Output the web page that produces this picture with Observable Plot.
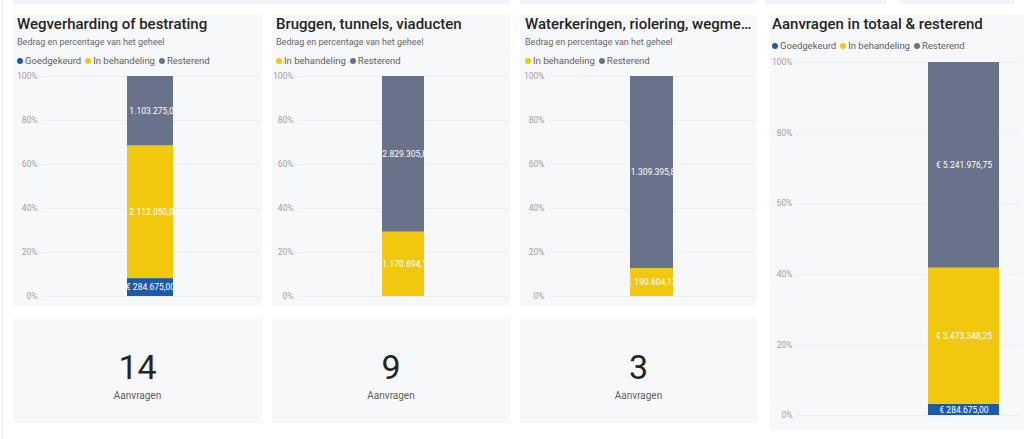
<!DOCTYPE html>
<html><head><meta charset="utf-8">
<script src="https://cdn.jsdelivr.net/npm/d3@7"></script>
<script src="https://cdn.jsdelivr.net/npm/@observablehq/plot@0.6"></script>
<style>
body{margin:0;background:#fff;font-family:Roboto,"Noto Sans",sans-serif;}
#page{position:relative;width:1024px;height:439px;overflow:hidden;background:#fff}
.box{position:absolute;background:#f7f8fa}
.strip{position:absolute;top:0;height:4px;background:#f3f4f7}
.title{position:absolute;font-family:Roboto,sans-serif;font-weight:500;font-size:15px;color:#252423;white-space:nowrap;line-height:16px}
.sub{position:absolute;font-size:9px;color:#666;white-space:nowrap;line-height:10px}
.legend{position:absolute;display:flex;align-items:center;font-size:9.5px;color:#605e5c;white-space:nowrap;line-height:10px}
.legend .dot{display:inline-block;width:6px;height:6px;border-radius:50%;margin-right:2px}
.legend .item{display:flex;align-items:center;margin-right:4px}
.chart{position:absolute}
.num{position:absolute;text-align:center;font-size:34px;color:#252423;line-height:34px;font-weight:400}
.numlab{position:absolute;text-align:center;font-size:10px;color:#605e5c;line-height:12px}
</style></head>
<body><div id="page"></div>
<script>
// ---- data ----
const categories = ["Goedgekeurd", "In behandeling", "Resterend"];
const colors = ["#1f5aa8", "#f2c80f", "#687389"];
const projects = ["Wegverharding of bestrating", "Bruggen, tunnels, viaducten", "Waterkeringen, riolering, wegme…"];
const totalTitle = "Aanvragen in totaal & resterend";
const subtitle = "Bedrag en percentage van het geheel";
const goedgekeurd = [284675, 0, 0];
const inBehandeling = [2112050, 1170694.13, 190604.12];
const resterend = [1103275, 2829305.87, 1309395.88];
const aanvragen = [14, 9, 3];
const countLabel = "Aanvragen";
const yTicks = [0, 0.2, 0.4, 0.6, 0.8, 1];

// ---- helpers ----
const nl = d3.formatLocale({decimal: ",", thousands: ".", grouping: [3], currency: ["€ ", ""]});
const fmt = nl.format("$,.2f");
const page = document.getElementById("page");
function el(cls, css, text) {
  const d = document.createElement("div");
  d.className = cls;
  Object.assign(d.style, css);
  if (text != null) d.textContent = text;
  page.appendChild(d);
  return d;
}
function legend(left, top, cats) {
  const d = el("legend", {left: left + "px", top: top + "px"});
  cats.forEach(c => {
    const it = document.createElement("span"); it.className = "item";
    const dot = document.createElement("span"); dot.className = "dot";
    dot.style.background = colors[categories.indexOf(c)];
    it.appendChild(dot); it.appendChild(document.createTextNode(c));
    d.appendChild(it);
  });
}
function chart(idx, vals, g) {
  const rows = categories.map((c, i) => ({cat: c, value: vals[i], bar: "bedrag"})).filter(r => r.value > 0);
  const r0 = g.ml, r1 = g.width - g.mr, bw = g.br - g.bl, range = r1 - r0;
  const svg = Plot.plot({
    width: g.width, height: g.height,
    marginTop: g.mt, marginBottom: g.mb, marginLeft: g.ml, marginRight: g.mr,
    style: {background: "transparent", fontFamily: "Roboto, sans-serif"},
    x: {domain: ["bedrag"], axis: null, paddingInner: 0, paddingOuter: (range / bw - 1) / 2, align: (g.bl - r0) / (range - bw)},
    y: {domain: [0, 1], axis: null},
    color: {domain: categories, range: colors},
    marks: [
      Plot.gridY(yTicks, {stroke: "#eceef2", strokeOpacity: 1}),
      Plot.axisY(yTicks, {tickSize: 0, tickPadding: 4, tickFormat: d => Math.round(d * 100) + "%", fontSize: 8.5, color: "#a19f9d", label: null}),
      Plot.barY(rows, Plot.stackY({x: "bar", y: "value", z: "cat", fill: "cat", offset: "normalize"})),
      Plot.text(rows, Plot.stackY({x: "bar", y: "value", z: "cat", text: d => fmt(d.value), offset: "normalize", fill: "white", fontSize: 8.5}))
    ]
  });
  // clip labels to the bar width, as the original does
  const ns = "http://www.w3.org/2000/svg";
  let x0 = Infinity, x1 = -Infinity;
  svg.querySelectorAll('g[aria-label="bar"] rect').forEach(r => {
    const x = +r.getAttribute("x"), w = +r.getAttribute("width");
    x0 = Math.min(x0, x); x1 = Math.max(x1, x + w);
  });
  const defs = document.createElementNS(ns, "defs");
  const cp = document.createElementNS(ns, "clipPath"); cp.setAttribute("id", "clip" + idx);
  const rc = document.createElementNS(ns, "rect");
  rc.setAttribute("x", x0); rc.setAttribute("y", 0); rc.setAttribute("width", x1 - x0); rc.setAttribute("height", g.height);
  cp.appendChild(rc); defs.appendChild(cp); svg.appendChild(defs);
  const tg = svg.querySelector('g[aria-label="text"]');
  if (tg) {
    const wrap = document.createElementNS(ns, "g");
    wrap.setAttribute("clip-path", `url(#clip${idx})`);
    tg.parentNode.insertBefore(wrap, tg);
    wrap.appendChild(tg);
  }
  svg.classList.add("chart");
  svg.style.left = g.left + "px"; svg.style.top = g.top + "px";
  page.appendChild(svg);
}

// ---- decoration ----
[[13, 510], [520, 757], [765, 887], [900, 1015]].forEach(([a, b]) => el("strip", {left: a + "px", width: (b - a) + "px"}));
el("box", {left: "2px", top: "0px", width: "1px", height: "439px", background: "#eeeeee"});

// ---- project panels ----
const panels = [
  {left: 13, width: 249, tx: 17, svg: {left: 12, top: 66, width: 252, height: 240, mt: 10, mb: 10, ml: 29, mr: 4, bl: 115, br: 161}},
  {left: 272, width: 238, tx: 276, svg: {left: 271, top: 66, width: 240, height: 240, mt: 10, mb: 10, ml: 26, mr: 3, bl: 111, br: 153}},
  {left: 520, width: 237, tx: 525, svg: {left: 519, top: 66, width: 240, height: 240, mt: 10, mb: 10, ml: 29, mr: 4, bl: 111, br: 154}}
];
panels.forEach((p, i) => {
  el("box", {left: p.left + "px", top: "15px", width: p.width + "px", height: "291px"});
  el("box", {left: p.left + "px", top: "317px", width: p.width + "px", height: "106px"});
  el("title", {left: p.tx + "px", top: "16px"}, projects[i]);
  el("sub", {left: p.tx + "px", top: "37px"}, subtitle);
  const vals = [goedgekeurd[i], inBehandeling[i], resterend[i]];
  legend(p.tx, 56, categories.filter((c, k) => vals[k] > 0));
  chart(i, vals, p.svg);
  el("num", {left: p.left + "px", width: p.width + "px", top: "350px"}, String(aanvragen[i]));
  el("numlab", {left: p.left + "px", width: p.width + "px", top: "390px"}, countLabel);
});

// ---- totals panel ----
const totals = [d3.sum(goedgekeurd), d3.sum(inBehandeling), d3.sum(resterend)];
el("box", {left: "770px", top: "15px", width: "254px", height: "415px"});
el("title", {left: "772px", top: "16px"}, totalTitle);
legend(772, 41, categories.filter((c, k) => totals[k] > 0));
chart(3, totals, {left: 769, top: 54, width: 255, height: 370, mt: 8, mb: 9, ml: 27, mr: 4, bl: 159, br: 230});
</script></body></html>
